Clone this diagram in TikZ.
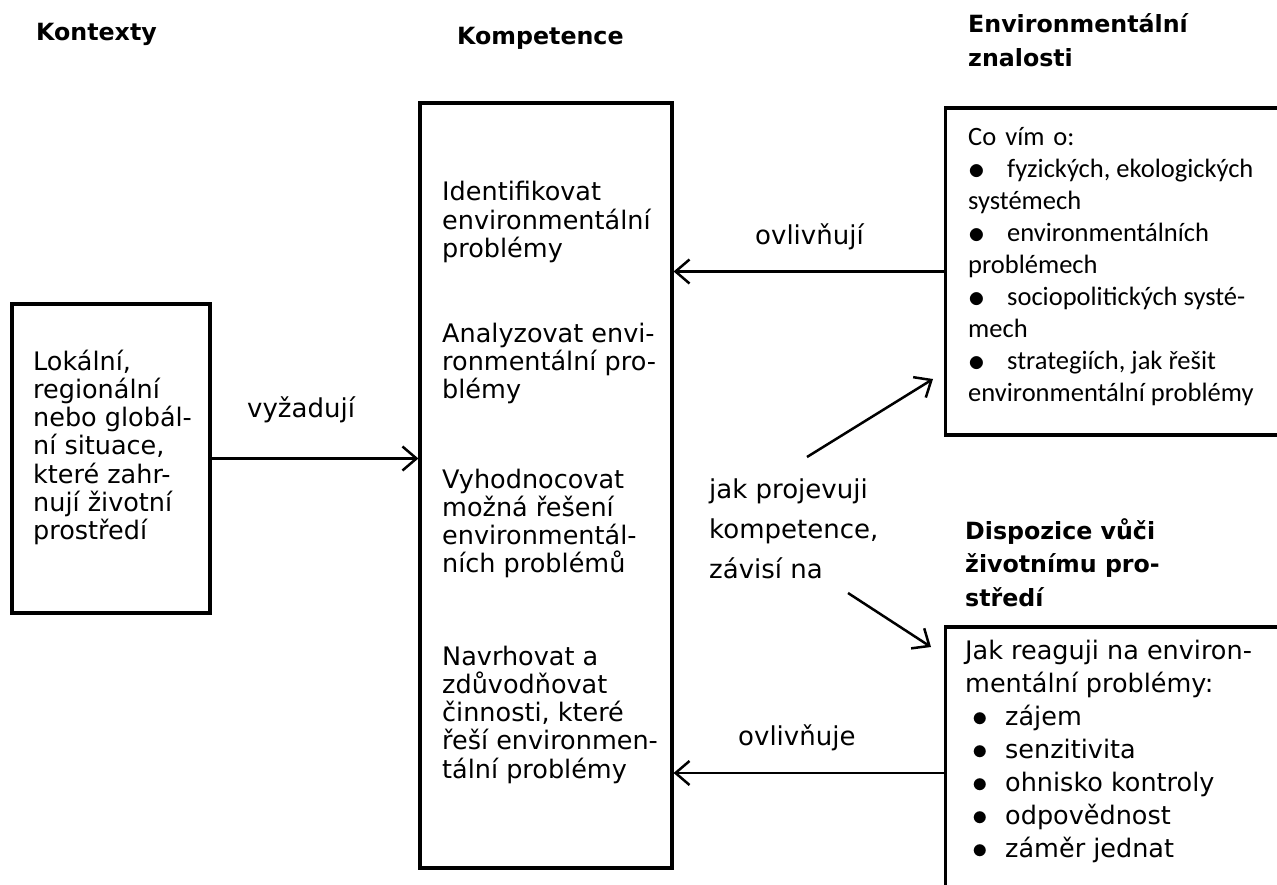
\documentclass[tikz,border=0pt]{standalone}
\usepackage{fontspec}
\setmainfont{DejaVu Sans}
\newfontfamily\calfont{Carlito}
\usepackage{tikz}
\usetikzlibrary{arrows.meta}
\usetikzlibrary{positioning}
\newcommand\znbul{\makebox[39pt][l]{\raisebox{-2pt}{\scalebox{1.35}{$\bullet$}}}}
\newcommand\dpbul{\hspace*{7pt}\makebox[33pt][l]{\raisebox{-1pt}{\scalebox{1.25}{$\bullet$}}}}
% multi-line nodes: placed by the baseline of their last line
\tikzstyle{box}=[rectangle,draw=black,line width=3.2pt,inner sep=0pt]
\tikzstyle{head}=[anchor=base west,inner sep=0pt,align=left,font=\bfseries\fontsize{23.7}{33.5}\selectfont]
\tikzstyle{txt}=[anchor=base west,inner sep=0pt,align=left,font=\fontsize{25.5}{28.3}\selectfont]
\tikzstyle{lbl}=[anchor=base west,inner sep=0pt,align=left,font=\fontsize{26}{40}\selectfont]
\tikzstyle{conn}=[->,line width=2.5pt]
\tikzset{every picture/.style={
    x=1pt,y=-1pt,>={Straight Barb[length=14pt,width=24pt]}
  }
}
\begin{document}
\begin{tikzpicture}
        \useasboundingbox (0,0) rectangle (1277,885);
        % headings
        \node[head] at (36,41) (hctx) {Kontexty};
        \node[head] at (457,45) (hkomp) {Kompetence};
        \node[head] at (968,66.5) (hznal) {Environmentální\\znalosti};
        \node[head] at (965,606) (hdisp) {Dispozice vůči\\životnímu pro-\\středí};
        % boxes
        \node[box,minimum width=198pt,minimum height=309pt] at (111,458.5) (ctx) {};
        \node[box,minimum width=252pt,minimum height=765pt] at (546,485.5) (komp) {};
        \node[box,minimum width=345pt,minimum height=327pt] at (1118,271.5) (znal) {};
        \node[box,minimum width=345pt,minimum height=292pt] at (1118,773) (disp) {};
        % box texts
        \node[txt] at (33,539.8) (tctx) {Lokální,\\regionální\\nebo globál-\\ní situace,\\které zahr-\\nují životní\\prostředí};
        \node[txt] at (442,257.6) (k1) {Identifikovat\\environmentální\\problémy};
        \node[txt] at (442,398.6) (k2) {Analyzovat envi-\\ronmentální pro-\\blémy};
        \node[txt] at (442,572.9) (k3) {Vyhodnocovat\\možná řešení\\environmentál-\\ních problémů};
        \node[txt] at (442,778.2) (k4) {Navrhovat a\\zdůvodňovat\\činnosti, které\\řeší environmen-\\tální problémy};
        \node[txt,font=\calfont\fontsize{26.5}{32.1}\selectfont] at (968,401.8) (tznal) {Co\hspace{3pt} vím\hspace{3pt} o:\\\znbul fyzických, ekologických\\systémech\\\znbul environmentálních\\problémech\\\znbul sociopolitických systé-\\mech\\\znbul strategiích, jak řešit\\environmentální problémy};
        \node[txt,font=\fontsize{25.5}{33}\selectfont] at (965,857) (tdisp) {Jak reaguji na environ-\\mentální problémy:\\\dpbul zájem\\\dpbul senzitivita\\\dpbul ohnisko kontroly\\\dpbul odpovědnost\\\dpbul záměr jednat};
        % labels
        \node[lbl] at (247,417) (vyz) {vyžadují};
        \node[lbl] at (755,245) (ovl1) {ovlivňují};
        \node[lbl] at (738,745) (ovl2) {ovlivňuje};
        \node[lbl] at (709,578) (jak) {jak projevuji\\kompetence,\\závisí na};
        % arrows
        \draw[conn] (ctx) -- (ctx -| komp.west);
        \draw[conn] (znal) -- (znal -| komp.east);
        \draw[conn] (disp) -- (disp -| komp.east);
        \coordinate (u1) at (807,457);
        \coordinate (u2) at (933,379);
        \coordinate (l1) at (848,593);
        \coordinate (l2) at (931,647);
        \draw[conn] (u1) -- (u2);
        \draw[conn] (l1) -- (l2);
      \end{tikzpicture}
\end{document}
